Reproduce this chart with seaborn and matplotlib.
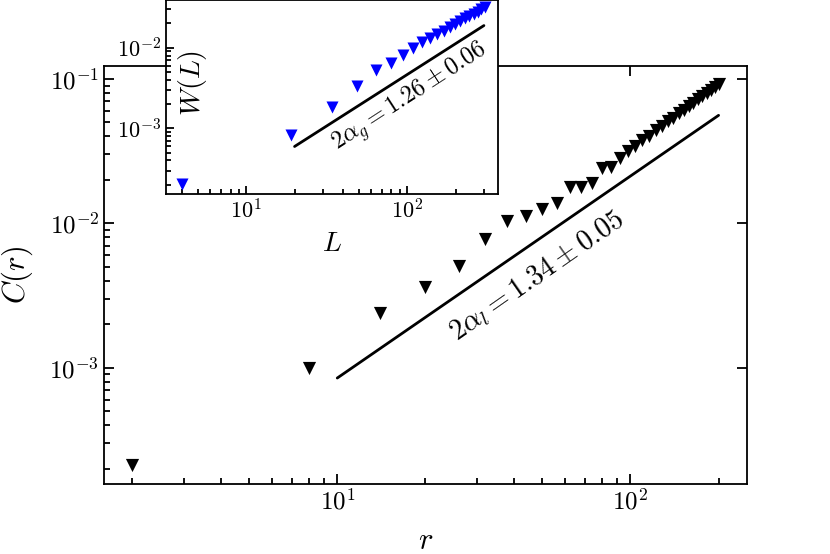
import numpy as np
import pandas as pd
import matplotlib
matplotlib.use('Agg')
import matplotlib.pyplot as plt
import seaborn as sns

sns.set_style("ticks")
plt.rcParams['mathtext.fontset'] = 'cm'
plt.rcParams['font.family'] = 'serif'
plt.rcParams['font.serif'] = ['cmr10', 'DejaVu Serif']
plt.rcParams['axes.formatter.use_mathtext'] = True
plt.rcParams['axes.linewidth'] = 1.3
plt.rcParams['axes.edgecolor'] = 'black'
plt.rcParams['axes.labelcolor'] = 'black'
plt.rcParams['text.color'] = 'black'
plt.rcParams['xtick.color'] = 'black'
plt.rcParams['ytick.color'] = 'black'

# main panel: correlation C(r)
r = [2, 8, 14, 20, 26, 32, 38, 44, 50, 56, 62, 68, 74, 80, 86, 92,
     98, 104, 110, 116, 122, 128, 134, 140, 146, 152, 158, 164, 170, 176, 182, 188, 194, 200]
C = [2.13e-4, 1.0e-3, 2.4e-3, 3.64e-3, 5.1e-3, 7.8e-3, 1.04e-2, 1.13e-2, 1.26e-2, 1.39e-2,
     1.79e-2, 1.79e-2, 1.91e-2, 2.42e-2, 2.45e-2, 2.84e-2,
     0.0316, 0.0343, 0.0378, 0.0405, 0.0442, 0.0470, 0.0508, 0.0539, 0.0578, 0.0610,
     0.0651, 0.0683, 0.0726, 0.0760, 0.0805, 0.0838, 0.0886, 0.0920]
fit_r = [10, 200]
fit_C = [8.5e-4, 5.6e-2]

# inset: roughness W(L)
L = [4, 19, 34, 49, 64, 79, 94, 109, 124, 139, 154, 169, 184, 199, 214, 229, 244, 259, 274, 289, 304]
W = [2.06e-4, 8.2e-4, 1.83e-3, 3.35e-3, 5.3e-3, 6.5e-3, 8.2e-3, 1.0e-2, 0.0116, 0.0131, 0.0148,
     0.0163, 0.0180, 0.0197, 0.0212, 0.0231, 0.0246, 0.0265, 0.0280, 0.0299, 0.0316]
fit_L = [20, 300]
fit_W = [5.96e-4, 1.88e-2]

dfmain = pd.DataFrame({'r': r, 'C': C})
dfin = pd.DataFrame({'L': L, 'W': W})

fig = plt.figure(figsize=(8.3, 5.54), dpi=100)
ax = fig.add_axes([0.1253, 0.1264, 0.7747, 0.7545])
sns.scatterplot(data=dfmain, x='r', y='C', marker='v', s=90, color='black', linewidth=0, ax=ax, zorder=3)
sns.lineplot(x=fit_r, y=fit_C, color='black', lw=2, ax=ax)
ax.set_xscale('log')
ax.set_yscale('log')
ax.set_xlim(1.60, 250)
ax.set_ylim(1.57e-4, 0.123)
ax.text(48, 4.3e-3, r'$2\alpha_l = 1.34 \pm 0.05$', rotation=35, fontsize=20.5,
        ha='center', va='center', rotation_mode='anchor')
ax.set_xlabel(r'$r$', fontsize=22)
ax.set_ylabel(r'$C(r)$', fontsize=22)
ax.xaxis.set_label_coords(0.5, -0.105)
ax.yaxis.set_label_coords(-0.107, 0.5)
ax.tick_params(which='both', direction='in', labelsize=18, width=1.3)
ax.tick_params(which='major', length=7, top=True, right=True)
ax.tick_params(which='minor', length=4)

axin = fig.add_axes([0.2, 0.65, 0.4, 0.35])
axin.set_facecolor('white')
sns.scatterplot(data=dfin, x='L', y='W', marker='v', s=75, color='blue', linewidth=0, ax=axin, zorder=3)
sns.lineplot(x=fit_L, y=fit_W, color='black', lw=2, ax=axin)
axin.set_xscale('log')
axin.set_yscale('log')
axin.set_xlim(3.18, 367)
axin.set_ylim(1.54e-4, 0.039)
axin.text(104, 2.37e-3, r'$2\alpha_g = 1.26 \pm 0.06$', rotation=33, fontsize=17.5,
          ha='center', va='center', rotation_mode='anchor')
axin.set_xlabel(r'$L$', fontsize=20)
axin.set_ylabel(r'$W(L)$', fontsize=20)
axin.xaxis.set_label_coords(0.5, -0.19)
axin.yaxis.set_label_coords(0.13, 0.57)
axin.tick_params(which='both', direction='in', labelsize=16, width=1.3)
axin.tick_params(which='major', length=6)
axin.tick_params(which='minor', length=3.5)

plt.savefig('out.png', dpi=100)
plt.close()
